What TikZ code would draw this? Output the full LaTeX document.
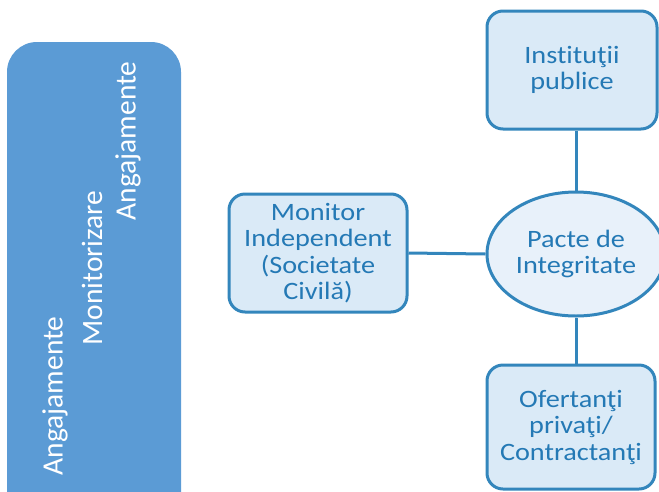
\documentclass[tikz,border=0pt]{standalone}
\usepackage{fontspec}
\setmainfont{Carlito}[Ligatures={NoCommon,NoContextual}]
\newfontfamily\widefont[FakeStretch=1.13,Ligatures={NoCommon,NoContextual}]{Carlito}
\usetikzlibrary{shapes.geometric}
\definecolor{leftblue}{HTML}{5B9BD5}
\definecolor{boxfill}{HTML}{DAEAF7}
\definecolor{ellfill}{HTML}{E8F1FA}
\definecolor{boxline}{HTML}{3386BC}
\definecolor{txtblue}{HTML}{2479B5}
\begin{document}
\begin{tikzpicture}[x=1pt,y=-1pt,
  entity/.style={draw=boxline, line width=3pt, fill=boxfill, rounded corners=16pt,
    inner sep=2pt, font=\widefont\fontsize{25}{26.5}\selectfont, text=txtblue, align=center},
  hub/.style={ellipse, draw=boxline, line width=3pt, fill=ellfill, inner sep=0pt,
    font=\widefont\fontsize{25}{26.5}\selectfont, text=txtblue, align=center},
  side/.style={font=\fontsize{29.5}{30}\selectfont, text=white, rotate=90, inner sep=0pt},
  link/.style={draw=boxline, line width=3pt}]
\useasboundingbox (0,0) rectangle (659,491);
\clip (0,0) rectangle (659,491);
\fill[leftblue, rounded corners=30pt] (7,42) rectangle (181,530);
\node[side] (ang1) at (55,396) {Angajamente};
\node[side] (moni) at (92,268) {Monitorizare};
\node[side] (ang2) at (128,141) {Angajamente};

\node[entity, minimum width=170, minimum height=118] (inst) at (572,70) {Instituţii\\publice};
\node[hub, minimum width=178, minimum height=124] (pacte) at (576,254) {Pacte de\\Integritate};
\node[entity, minimum width=178, minimum height=118] (monind) at (318,253) {Monitor\\Independent\\(Societate\\Civilă)};
\node[entity, minimum width=168, minimum height=124] (ofert) at (571,427) {Ofertanţi\\privaţi/\\Contractanţi};

\draw[link] (monind.east) -- (pacte.west);
\draw[link] (pacte.north) -- (pacte.north |- inst.south);
\draw[link] (pacte.south) -- (pacte.south |- ofert.north);
\end{tikzpicture}
\end{document}
